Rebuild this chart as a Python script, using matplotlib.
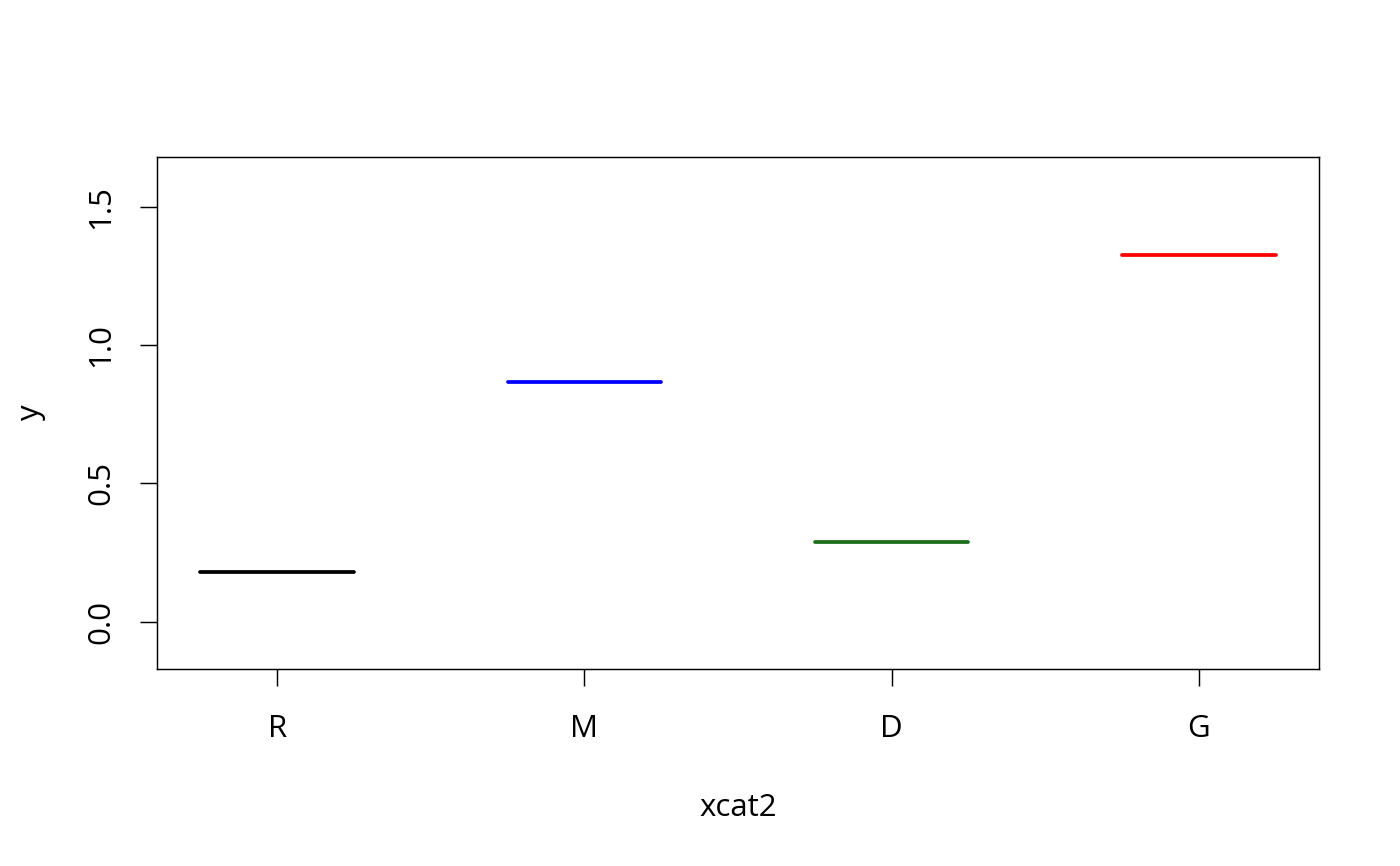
import matplotlib
matplotlib.use("Agg")
import matplotlib.pyplot as plt

categories = ["R", "M", "D", "G"]
values = [0.181, 0.866, 0.288, 1.325]
colors = ["black", "blue", "#1c6e1c", "red"]
yticks = [0.0, 0.5, 1.0, 1.5]
ytick_labels = ["0.0", "0.5", "1.0", "1.5"]

plt.rcParams['font.family'] = ['Open Sans', 'DejaVu Sans']

fig = plt.figure(figsize=(14, 8.66), dpi=100)
ax = fig.add_axes([157/1400, 1-669/866, (1319-157)/1400, (669-157)/866])

positions = list(range(1, len(categories) + 1))
for p, v, c in zip(positions, values, colors):
    ax.plot([p - 0.25, p + 0.25], [v, v], color=c, lw=2.7, solid_capstyle='round')

ax.set_xlim(0.609, 4.391)
ax.set_ylim(-0.17, 1.679)
ax.set_xticks(positions)
ax.set_xticklabels(categories)
ax.set_yticks(yticks)
ax.set_yticklabels(ytick_labels, rotation=90, va='center')

for s in ax.spines.values():
    s.set_linewidth(1.05)
ax.tick_params(axis='both', length=12.5, width=1.05, labelsize=22.5, direction='out')
ax.tick_params(axis='x', pad=20)
ax.tick_params(axis='y', pad=17)

ax.set_xlabel("xcat2", fontsize=22.5, labelpad=35)
ax.set_ylabel("y", fontsize=22.5, labelpad=29)

fig.savefig("out.png", dpi=100)
